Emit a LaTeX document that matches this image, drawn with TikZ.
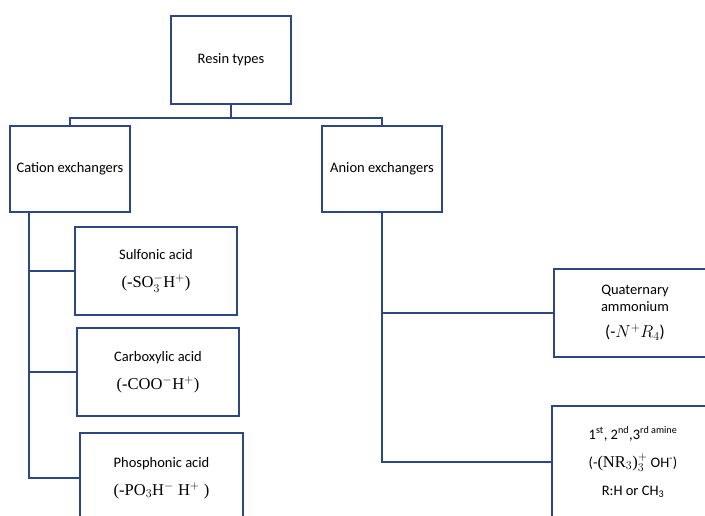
\documentclass[tikz,border=0pt]{standalone}
\usepackage{fontspec}
\setmainfont{Carlito}
\newfontfamily\formulafont{Liberation Serif}
\usetikzlibrary{calc}
\newcommand{\formulasize}{\fontsize{16.5}{18}\selectfont}
\begin{document}
\begin{tikzpicture}[x=1pt, y=-1pt,
    every node/.style={font=\fontsize{14.5}{16}\selectfont},
    resinbox/.style={draw=borderColour, line width=1.7pt, rectangle, inner sep=0pt, align=center},
    branch/.style={draw=borderColour, line width=1.7pt}]
    \definecolor{borderColour}{HTML}{2C4784}

    \useasboundingbox (0,0) rectangle (705,515);
    \clip (0,0) rectangle (705,515);

    % Top level
    \node[resinbox, minimum width=120, minimum height=88] (resin) at (231,60) {Resin types};

    % Two families
    \node[resinbox, minimum width=120, minimum height=86] (cation) at (70,169) {Cation exchangers};
    \node[resinbox, minimum width=120, minimum height=86] (anion) at (382,169) {Anion exchangers};

    % Cation exchangers
    \node[resinbox, minimum width=162, minimum height=88] (sulfonic) at (156,271)
        {Sulfonic acid\\[12pt] {\formulasize\formulafont(-SO$_3^{-}$H$^{+}$)}};
    \node[resinbox, minimum width=162, minimum height=88] (carboxylic) at (158,372)
        {Carboxylic acid\\[12pt] {\formulasize\formulafont(-COO$^{-}$H$^{+}$)}};
    \node[resinbox, minimum width=163, minimum height=90] (phosphonic) at (161.5,478)
        {Phosphonic acid\\[12pt] {\formulasize\formulafont(-PO$_3$H$^{-}$ H$^{+}$ )}};

    % Anion exchangers
    \node[resinbox, minimum width=162, minimum height=88] (quaternary) at (635,313)
        {Quaternary\\[1pt] ammonium\\[10pt] {\fontsize{17}{19}\selectfont(-$N^{+}R_4$)}};
    \node[resinbox, minimum width=162, minimum height=112] (amine) at (633,462)
        {1\textsuperscript{st}, 2\textsuperscript{nd},3\textsuperscript{rd amine}\\[12pt]
         (-{\formulasize\formulafont(NR$_3$)$_3^{+}$} OH\textsuperscript{-})\\[12pt]
         R:H or CH\textsubscript{3}};

    % Connectors
    \coordinate (split) at ($(resin.south)+(0,13)$);
    \draw[branch] (resin.south) -- (split);
    \draw[branch] (split) -| (cation.north);
    \draw[branch] (split) -| (anion.north);

    \coordinate (ctrunk) at ([xshift=-41]cation.south);
    \draw[branch] (ctrunk) |- (phosphonic.west);
    \draw[branch] (ctrunk |- sulfonic.west) -- (sulfonic.west);
    \draw[branch] (ctrunk |- carboxylic.west) -- (carboxylic.west);

    \draw[branch] (anion.south) |- (amine.west);
    \draw[branch] (anion.south |- quaternary.west) -- (quaternary.west);
\end{tikzpicture}
\end{document}
